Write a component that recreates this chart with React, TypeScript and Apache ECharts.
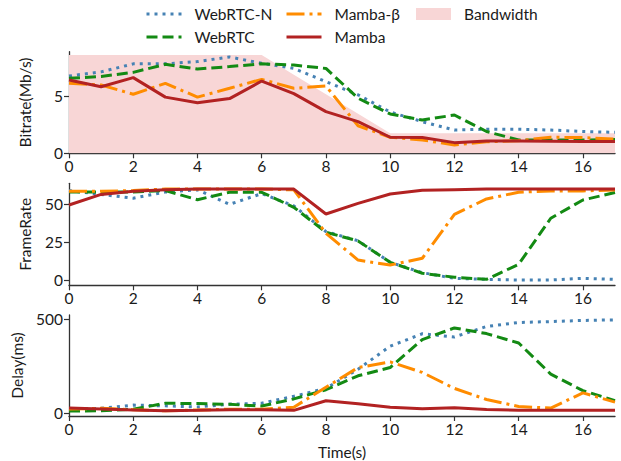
import React, { useEffect, useRef } from "react";
import * as echarts from "echarts";

const TIME = [0, 1, 2, 3, 4, 5, 6, 7, 8, 9, 10, 11, 12, 13, 14, 15, 16, 17];
const X_TICKS = [0, 2, 4, 6, 8, 10, 12, 14, 16];
const BITRATE_TICKS = [0, 5];
const FRAMERATE_TICKS = [0, 25, 50];
const DELAY_TICKS = [0, 500];

const BANDWIDTH = [8.57, 8.57, 8.57, 8.57, 8.57, 8.57, 8.57, 6.86, 5.15, 3.45, 1.74, 1.74, 1.74, 1.74, 1.74, 1.74, 1.74, 1.74];

const BITRATE_WEBRTC_N = [6.74, 7.1, 7.8, 7.8, 8.0, 8.4, 7.85, 7.4, 6.25, 5.1, 3.6, 2.76, 2.03, 2.1, 2.1, 2.03, 1.9, 1.83];
const BITRATE_WEBRTC = [6.54, 6.7, 7.06, 7.76, 7.35, 7.56, 7.8, 7.7, 7.4, 4.8, 3.43, 2.9, 3.34, 1.9, 1.16, 1.16, 1.16, 1.2];
const BITRATE_MAMBA_B = [6.1, 5.96, 5.15, 6.1, 4.9, 5.67, 6.45, 5.67, 5.87, 2.4, 1.4, 1.16, 0.73, 1.0, 1.1, 1.4, 1.37, 1.25];
const BITRATE_MAMBA = [6.4, 5.8, 6.6, 4.9, 4.4, 4.77, 6.3, 5.2, 3.63, 2.76, 1.4, 1.37, 0.93, 1.08, 1.08, 1.05, 1.02, 1.02];

const FPS_WEBRTC_N = [59, 56.5, 54, 58, 59.5, 50, 57, 49, 32, 26, 11.8, 5, 1.3, 0.6, 0.2, 0.2, 1.3, 0.6];
const FPS_WEBRTC = [58, 58, 58, 59, 53, 57.9, 57.9, 48, 31.6, 25.9, 11.8, 4.6, 2, 0.6, 10.5, 40.8, 52.8, 57.7];
const FPS_MAMBA_B = [58.5, 58.5, 59, 60, 60, 60, 60, 59.5, 30.9, 13.3, 10, 14.5, 43.4, 53.5, 57.9, 58.8, 58.8, 59.4];
const FPS_MAMBA = [49.5, 56.5, 58.5, 59.5, 60, 60, 60, 60, 43.6, 50.6, 56.8, 59.2, 59.6, 60, 60, 60, 60, 60];

const DELAY_WEBRTC_N = [21, 25, 42, 38, 32, 47, 52, 89, 131, 233, 356, 422, 405, 461, 482, 487, 493, 496];
const DELAY_WEBRTC = [10, 12, 20, 52, 50, 46, 37, 75, 124, 198, 242, 391, 453, 423, 373, 207, 119, 66];
const DELAY_MAMBA_B = [21, 25, 17.5, 12, 16, 20, 20, 31, 137, 242, 272, 216, 131, 72, 35, 26, 107, 58];
const DELAY_MAMBA = [26, 21, 16, 12, 14, 17, 17, 14, 65, 49, 31, 23, 28, 19, 14, 14, 14, 14];

const FONT = "Lato";
const AXIS_COLOR = "#333333";
const TEXT_COLOR = "#1a1a1a";
const FS = 15.5;

const STYLES: Record<string, { color: string; type: any; width: number; z: number }> = {
  "WebRTC-N": { color: "#4682B4", type: [3, 5], width: 3, z: 3 },
  WebRTC: { color: "#138A13", type: [11, 5], width: 3, z: 4 },
  "Mamba-β": { color: "#FF8C00", type: [18, 5, 3, 5], width: 3, z: 5 },
  Mamba: { color: "#B22222", type: "solid", width: 3, z: 6 },
};
const BW_COLOR = "#F8D6D6";

function pairs(ys: number[]) {
  return TIME.map((t, i) => [t, ys[i]]);
}

function lineSeries(name: string, ys: number[], idx: number) {
  const s = STYLES[name];
  return {
    name,
    type: "line",
    xAxisIndex: idx,
    yAxisIndex: idx,
    data: pairs(ys),
    symbol: "none",
    showSymbol: false,
    color: s.color,
    z: s.z,
    lineStyle: { color: s.color, width: s.width, type: s.type, cap: "butt" },
  };
}

function xAxis(idx: number) {
  return {
    type: "value",
    gridIndex: idx,
    min: 0,
    max: 17,
    interval: 2,
    axisLine: { show: true, onZero: false, lineStyle: { color: AXIS_COLOR, width: 1.3 } },
    axisTick: { show: true, length: 5, lineStyle: { color: AXIS_COLOR, width: 1.2 }, customValues: X_TICKS },
    axisLabel: { fontFamily: FONT, fontSize: FS, color: TEXT_COLOR, margin: 5, customValues: X_TICKS },
    splitLine: { show: false },
    ...(idx === 2
      ? {
          name: "Time(s)",
          nameLocation: "middle",
          nameGap: 28,
          nameTextStyle: { fontFamily: FONT, fontSize: FS, color: TEXT_COLOR },
        }
      : {}),
  };
}

function yAxis(idx: number, name: string, min: number, max: number, ticks: number[]) {
  return {
    type: "value",
    gridIndex: idx,
    min,
    max,
    name,
    nameLocation: "middle",
    nameGap: 36,
    nameTextStyle: { fontFamily: FONT, fontSize: FS, color: TEXT_COLOR },
    axisLine: { show: true, onZero: false, lineStyle: { color: AXIS_COLOR, width: 1.3 } },
    axisTick: { show: true, length: 5, lineStyle: { color: AXIS_COLOR, width: 1.2 }, customValues: ticks },
    axisLabel: { fontFamily: FONT, fontSize: FS, color: TEXT_COLOR, margin: 6, customValues: ticks },
    splitLine: { show: false },
  };
}

function legendItem(name: string, left: number, top: number) {
  const isBw = name === "Bandwidth";
  const s = STYLES[name];
  return {
    data: [
      isBw
        ? { name, icon: "rect", itemStyle: { color: BW_COLOR } }
        : {
            name,
            itemStyle: { opacity: 0 },
            lineStyle: { color: s.color, width: s.width, type: s.type, cap: "butt" },
          },
    ],
    left,
    top,
    padding: 0,
    itemWidth: 35,
    itemHeight: 12,
    selectedMode: false,
    textStyle: { fontFamily: FONT, fontSize: FS, color: TEXT_COLOR, padding: [0, 0, 0, 8] },
  };
}

export default function App() {
  const ref = useRef<HTMLDivElement>(null);
  useEffect(() => {
    if (!ref.current) return;
    const chart = echarts.init(ref.current, null, { renderer: "svg" });
    const grids = [
      { left: 69, right: 6, top: 51.7, height: 101.6 },
      { left: 69, right: 6, top: 183.3, height: 102 },
      { left: 69, right: 6, top: 315, height: 102.3 },
    ];
    const option = {
      animation: false,
      backgroundColor: "#ffffff",
      textStyle: { fontFamily: FONT },
      grid: grids,
      legend: [
        legendItem("WebRTC-N", 145, 6),
        legendItem("WebRTC", 145, 29),
        legendItem("Mamba-β", 285, 6),
        legendItem("Mamba", 285, 29),
        legendItem("Bandwidth", 416, 6),
      ],
      xAxis: [xAxis(0), xAxis(1), xAxis(2)],
      yAxis: [
        yAxis(0, "Bitrate(Mb/s)", 0, 8.86, BITRATE_TICKS),
        yAxis(1, "FrameRate", -3.3, 63.8, FRAMERATE_TICKS),
        yAxis(2, "Delay(ms)", -16, 522, DELAY_TICKS),
      ],
      series: [
        {
          name: "Bandwidth",
          type: "line",
          xAxisIndex: 0,
          yAxisIndex: 0,
          data: pairs(BANDWIDTH),
          symbol: "none",
          showSymbol: false,
          color: BW_COLOR,
          z: 1,
          lineStyle: { width: 0, opacity: 0 },
          areaStyle: { color: BW_COLOR, opacity: 1 },
        },
        lineSeries("WebRTC-N", BITRATE_WEBRTC_N, 0),
        lineSeries("WebRTC", BITRATE_WEBRTC, 0),
        lineSeries("Mamba-β", BITRATE_MAMBA_B, 0),
        lineSeries("Mamba", BITRATE_MAMBA, 0),
        lineSeries("WebRTC-N", FPS_WEBRTC_N, 1),
        lineSeries("WebRTC", FPS_WEBRTC, 1),
        lineSeries("Mamba-β", FPS_MAMBA_B, 1),
        lineSeries("Mamba", FPS_MAMBA, 1),
        lineSeries("WebRTC-N", DELAY_WEBRTC_N, 2),
        lineSeries("WebRTC", DELAY_WEBRTC, 2),
        lineSeries("Mamba-β", DELAY_MAMBA_B, 2),
        lineSeries("Mamba", DELAY_MAMBA, 2),
      ],
    };
    chart.setOption(option as any);
    return () => chart.dispose();
  }, []);
  return (
    <div
      ref={ref}
      style={{ position: "absolute", left: 0, top: 0, width: 621, height: 461, background: "#fff" }}
    />
  );
}
